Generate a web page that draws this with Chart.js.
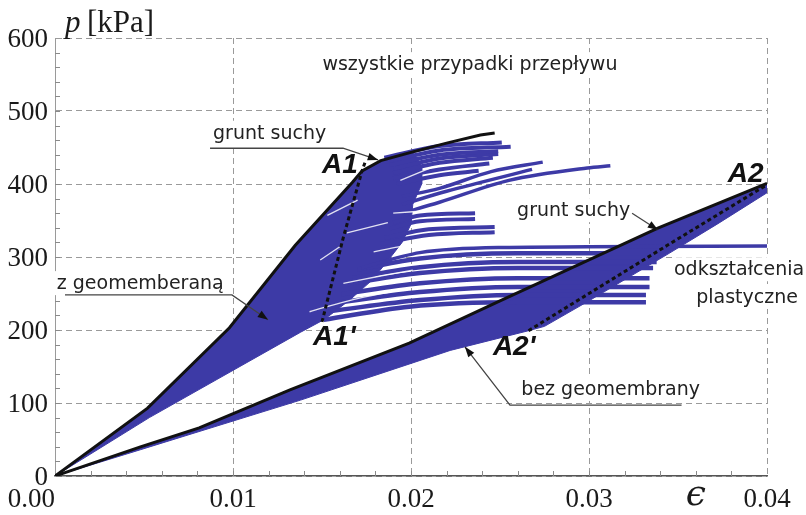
<!DOCTYPE html>
<html>
<head>
<meta charset="utf-8">
<script src="https://cdn.jsdelivr.net/npm/chart.js@4.4.0/dist/chart.umd.min.js"></script>
<style>
  html, body { margin: 0; padding: 0; background: #fff; }
</style>
</head>
<body>
<canvas id="pChart" width="806" height="515"></canvas>
<script>
// osie
var xTicks = [0, 0.01, 0.02, 0.03, 0.04];
var xTickLabels = ['0.00', '0.01', '0.02', '0.03', '0.04'];
var yTicks = [0, 100, 200, 300, 400, 500, 600];

// z geomembraną - górna krzywa (grunt suchy)
var topEps = [0, 0.0052, 0.0098, 0.0135, 0.0167, 0.01725, 0.0183, 0.0201, 0.022, 0.0239, 0.0247];
var topP = [0, 93, 203, 316, 402, 418, 432, 444, 456, 467, 470];
// dolna krawędź wachlarza
var fanLowEps = [0, 0.0053, 0.0138, 0.0151];
var fanLowP = [0, 80, 197, 214];
// prawa krawędź zwartej części wachlarza
var fanEdgeEps = [0.0206, 0.0206, 0.0201, 0.0200, 0.0195, 0.0188, 0.0178, 0.0166, 0.0157];
var fanEdgeP = [425, 400, 372, 345, 320, 298, 268, 242, 225];
// linia A1' - A1
var a1Eps = [0.0150, 0.0162, 0.01725, 0.01745];
var a1P = [211, 327, 418, 432];

// odkształcenia plastyczne - gałęzie wachlarza
var tailEps = [
  [0.0185, 0.0216, 0.0251],
  [0.0185, 0.0216, 0.0256],
  [0.0188, 0.0216, 0.0249],
  [0.0190, 0.0216, 0.0249],
  [0.0190, 0.0216, 0.0246],
  [0.0190, 0.0216, 0.0244],
  [0.0192, 0.0216, 0.0238],
  [0.0195, 0.0216, 0.0245, 0.0274],
  [0.0195, 0.0220, 0.0268],
  [0.0195, 0.0216, 0.0255, 0.0299, 0.0312],
  [0.0190, 0.0205, 0.0236],
  [0.0188, 0.0205, 0.0236],
  [0.0185, 0.0210, 0.0247],
  [0.0183, 0.0210, 0.0247],
  [0.0172, 0.0205, 0.0250, 0.0400],
  [0.0170, 0.0205, 0.0260, 0.0340],
  [0.0167, 0.0205, 0.0260, 0.0338],
  [0.0164, 0.0205, 0.0260, 0.0336],
  [0.0161, 0.0205, 0.0260, 0.0334],
  [0.0158, 0.0205, 0.0260, 0.0334],
  [0.0155, 0.0205, 0.0260, 0.0332],
  [0.0151, 0.0199, 0.0260, 0.0332]
];
var tailP = [
  [436, 452, 457],
  [430, 446, 451],
  [426, 440, 445],
  [421, 435, 441],
  [415, 429, 436],
  [408, 420, 428],
  [400, 412, 418],
  [383, 394, 417, 430],
  [372, 390, 420],
  [360, 375, 405, 422, 425],
  [347, 357, 360],
  [339, 349, 352],
  [326, 338, 341],
  [318, 330, 334],
  [285, 306, 313, 315],
  [283, 298, 305, 305],
  [271, 286, 293, 293],
  [263, 278, 285, 285],
  [249, 264, 271, 271],
  [237, 252, 259, 259],
  [226, 241, 248, 248],
  [214, 232, 238, 238]
];
var tailWidth = [4, 4, 4, 4, 4, 4, 4, 3.5, 3.5, 3.5, 4, 4, 4, 4, 3.5, 4.5, 4.5, 4.5, 4.5, 4.5, 4.5, 4.5];

// jasne przerwy między krzywymi w zwartej części wachlarza
var gapEps = [
  [0.0143, 0.0168, 0.0188],
  [0.0162, 0.0185, 0.0201],
  [0.0179, 0.0193, 0.0205],
  [0.0149, 0.0160],
  [0.0153, 0.0170],
  [0.0164, 0.0187],
  [0.0194, 0.0212],
  [0.0190, 0.0212]
];
var gapP = [
  [225, 242, 252],
  [264, 275, 282],
  [307, 314, 319],
  [296, 314],
  [357, 378],
  [333, 347],
  [405, 423],
  [360, 364]
];

// bez geomembrany - górna krzywa (grunt suchy)
var lowTopEps = [0, 0.0048, 0.0081, 0.0132, 0.0199, 0.0250, 0.0339, 0.0400];
var lowTopP = [0, 40, 66, 118, 182, 240, 340, 401];
// dolna krawędź
var lowBotEps = [0, 0.0048, 0.0138, 0.0222, 0.0266];
var lowBotP = [0, 36, 104, 172, 199];
// prawa krawędź przy A2' - A2
var lowEdgeEps = [0.0400, 0.0372, 0.0345, 0.0300, 0.0275];
var lowEdgeP = [388, 345, 305, 240, 205];
// linia A2' - A2
var a2Eps = [0.0266, 0.0344, 0.0400];
var a2P = [199, 316, 399];

var blue = '#3d3aa6';

function pts(xs, ys) {
    return xs.map(function (x, i) {
        return { x: x, y: ys[i] };
    });
}

var upperShape = pts(topEps.slice(0, 8), topP.slice(0, 8))
    .concat(pts(fanEdgeEps, fanEdgeP))
    .concat(pts(fanLowEps, fanLowP).reverse());
var lowerShape = pts(lowTopEps, lowTopP)
    .concat(pts(lowEdgeEps, lowEdgeP))
    .concat(pts(lowBotEps, lowBotP).reverse());

var datasets = [
    { data: pts(topEps, topP), borderColor: '#111', borderWidth: 3, order: 0 },
    { data: pts(lowTopEps, lowTopP), borderColor: '#111', borderWidth: 3, order: 0 },
    { data: pts(a1Eps, a1P), borderColor: '#111', borderWidth: 3, borderDash: [4, 3], order: 0 },
    { data: pts(a2Eps, a2P), borderColor: '#111', borderWidth: 3, borderDash: [4, 3], order: 0 },
    { data: upperShape, borderColor: blue, borderWidth: 1, backgroundColor: blue, fill: 'shape', order: 3 },
    { data: lowerShape, borderColor: blue, borderWidth: 1, backgroundColor: blue, fill: 'shape', order: 3 }
];
tailEps.forEach(function (xs, i) {
    datasets.push({
        data: pts(xs, tailP[i]),
        borderColor: blue,
        borderWidth: tailWidth[i],
        cubicInterpolationMode: 'monotone',
        order: 2
    });
});
gapEps.forEach(function (xs, i) {
    datasets.push({
        data: pts(xs, gapP[i]),
        borderColor: 'rgba(255,255,255,0.85)',
        borderWidth: 1.3,
        cubicInterpolationMode: 'monotone',
        order: 1
    });
});

// teksty na wykresie, pozycje w jednostkach osi
var notes = [
    { t: 'wszystkie przypadki przepływu', e: 0.02331, p: 556, align: 'center' },
    { t: 'grunt suchy', e: 0.00888, p: 462, align: 'left' },
    { t: 'z geomemberaną', e: 0.0001, p: 256, align: 'left' },
    { t: 'grunt suchy', e: 0.02596, p: 356, align: 'left' },
    { t: 'odkształcenia', e: 0.03843, p: 275, align: 'center' },
    { t: 'plastyczne', e: 0.03888, p: 237, align: 'center' },
    { t: 'bez geomembrany', e: 0.0262, p: 111, align: 'left' }
];
var marks = [
    { t: 'A1', e: 0.0150, p: 415 },
    { t: "A1'", e: 0.0145, p: 179 },
    { t: 'A2', e: 0.0378, p: 403 },
    { t: "A2'", e: 0.0246, p: 166 }
];
var leaders = [
    [[0.00871, 449], [0.01618, 449], [0.01815, 433]],
    [[0.00056, 248], [0.00994, 248], [0.01197, 214]],
    [[0.03242, 360], [0.03388, 337]],
    [[0.0352, 97], [0.02556, 97], [0.02303, 177]]
];

var decor = {
    id: 'decor',
    beforeDatasetsDraw: function (chart) {
        var ctx = chart.ctx, xs = chart.scales.x, ys = chart.scales.y, a = chart.chartArea;
        ctx.save();
        // drobne kreski podziałki
        ctx.strokeStyle = '#8a8a8a';
        ctx.lineWidth = 1;
        for (var v = 20; v < 600; v += 20) {
            var y = Math.round(ys.getPixelForValue(v)) + 0.5;
            ctx.beginPath();
            ctx.moveTo(a.left, y);
            ctx.lineTo(a.left + 5, y);
            ctx.stroke();
        }
        for (var k = 1; k < 20; k++) {
            var x = Math.round(xs.getPixelForValue(k * 0.002)) + 0.5;
            ctx.beginPath();
            ctx.moveTo(x, a.bottom);
            ctx.lineTo(x, a.bottom - 5);
            ctx.stroke();
        }
        ctx.font = '19px "DejaVu Sans"';
        ctx.textBaseline = 'alphabetic';
        notes.forEach(function (n) {
            var px = xs.getPixelForValue(n.e), py = ys.getPixelForValue(n.p);
            var w = ctx.measureText(n.t).width;
            var left = n.align === 'center' ? px - w / 2 : px;
            ctx.fillStyle = '#fff';
            ctx.fillRect(left - 2, py - 18, w + 4, 24);
            ctx.fillStyle = '#222';
            ctx.textAlign = n.align;
            ctx.fillText(n.t, px, py);
        });
        ctx.restore();
    },
    afterDatasetsDraw: function (chart) {
        var ctx = chart.ctx, xs = chart.scales.x, ys = chart.scales.y;
        ctx.save();
        ctx.strokeStyle = '#444';
        ctx.fillStyle = '#111';
        ctx.lineWidth = 1.3;
        leaders.forEach(function (l) {
            var p = l.map(function (q) {
                return [xs.getPixelForValue(q[0]), ys.getPixelForValue(q[1])];
            });
            ctx.beginPath();
            ctx.moveTo(p[0][0], p[0][1]);
            for (var i = 1; i < p.length; i++) ctx.lineTo(p[i][0], p[i][1]);
            ctx.stroke();
            var e = p[p.length - 1], s = p[p.length - 2];
            var ang = Math.atan2(e[1] - s[1], e[0] - s[0]);
            ctx.beginPath();
            ctx.moveTo(e[0], e[1]);
            ctx.lineTo(e[0] - 11 * Math.cos(ang - 0.35), e[1] - 11 * Math.sin(ang - 0.35));
            ctx.lineTo(e[0] - 11 * Math.cos(ang + 0.35), e[1] - 11 * Math.sin(ang + 0.35));
            ctx.closePath();
            ctx.fill();
        });
        ctx.font = 'italic bold 28px "Liberation Sans"';
        ctx.textAlign = 'left';
        ctx.textBaseline = 'alphabetic';
        marks.forEach(function (m) {
            ctx.fillText(m.t, xs.getPixelForValue(m.e), ys.getPixelForValue(m.p));
        });
        ctx.restore();
    },
    afterDraw: function (chart) {
        var ctx = chart.ctx, xs = chart.scales.x, a = chart.chartArea;
        ctx.save();
        ctx.fillStyle = '#1a1a1a';
        ctx.textBaseline = 'alphabetic';
        ctx.font = '27px "Liberation Serif"';
        xTicks.forEach(function (v, i) {
            ctx.textAlign = i === 0 ? 'right' : 'center';
            ctx.fillText(xTickLabels[i], xs.getPixelForValue(v), a.bottom + 31);
        });
        ctx.font = 'italic 36px "DejaVu Serif"';
        ctx.textAlign = 'center';
        ctx.fillText('\u03f5', xs.getPixelForValue(0.0360), a.bottom + 29);
        ctx.textAlign = 'left';
        ctx.font = 'italic 31px "Liberation Serif"';
        ctx.fillText('p', a.left + 10, a.top - 6);
        ctx.font = '31px "Liberation Serif"';
        ctx.fillText('[kPa]', a.left + 32, a.top - 6);
        ctx.restore();
    }
};

new Chart(document.getElementById('pChart').getContext('2d'), {
    type: 'scatter',
    data: { datasets: datasets },
    options: {
        responsive: false,
        animation: false,
        layout: { padding: { left: 0, right: 39, top: 38, bottom: 0 } },
        elements: { point: { radius: 0 }, line: { tension: 0 } },
        datasets: { scatter: { showLine: true } },
        plugins: { legend: { display: false }, tooltip: { enabled: false } },
        scales: {
            x: {
                type: 'linear', min: 0, max: 0.04,
                afterFit: function (s) { s.height = 39; },
                afterBuildTicks: function (s) { s.ticks = xTicks.map(function (v) { return { value: v }; }); },
                ticks: { display: false },
                grid: { color: '#9a9a9a', lineWidth: 1, drawTicks: false },
                border: { color: '#555', width: 1.5, dash: [6, 4] }
            },
            y: {
                type: 'linear', min: 0, max: 600,
                afterFit: function (s) { s.width = 55; },
                afterBuildTicks: function (s) { s.ticks = yTicks.map(function (v) { return { value: v }; }); },
                ticks: {
                    padding: 7, labelOffset: 2, color: '#1a1a1a',
                    font: { family: 'Liberation Serif', size: 27 }
                },
                grid: { color: '#9a9a9a', lineWidth: 1, drawTicks: false },
                border: { color: '#9a9a9a', width: 1, dash: [6, 4] }
            }
        }
    },
    plugins: [decor]
});
</script>
</body>
</html>
